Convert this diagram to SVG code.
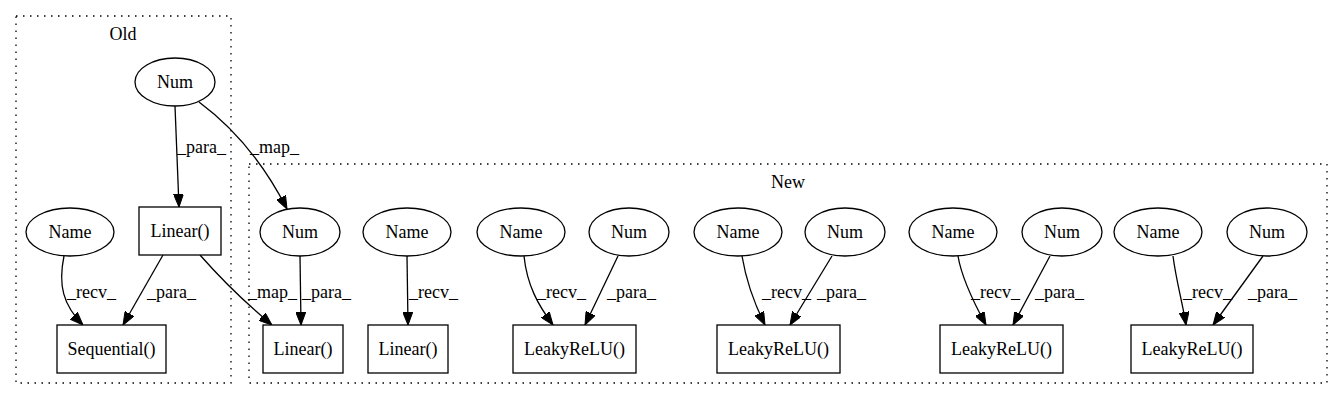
<svg xmlns="http://www.w3.org/2000/svg" width="1344" height="400" viewBox="0 0 1344 400">
<defs>
<marker id="ah" viewBox="0 0 13 10" markerWidth="13" markerHeight="10" refX="13" refY="5" orient="auto" markerUnits="userSpaceOnUse">
<path d="M0,0 L13,5 L0,10 z" fill="#000" stroke="#000" stroke-width="1"/>
</marker>
</defs>
<style>
text{font-family:"Liberation Serif","Times New Roman",serif;font-size:18px;fill:#000}
.n{text-anchor:middle}
.sh{fill:#fff;stroke:#000;stroke-width:1.3}
.cl{fill:none;stroke:#000;stroke-width:1.3;stroke-dasharray:1.5,5.5}
.e{fill:none;stroke:#000;stroke-width:1.3;marker-end:url(#ah)}
</style>
<rect width="1344" height="400" fill="#fff"/>
<g id="cluster_old">
<rect class="cl" x="16" y="16" width="215" height="367"/>
<text class="n" x="123" y="40">Old</text>
</g>
<g id="cluster_new">
<rect class="cl" x="249" y="164" width="1078" height="219"/>
<text class="n" x="788" y="188">New</text>
</g>
<g id="edges">
<path class="e" d="M175,106 L179,207"/>
<text x="177" y="153">_para_</text>
<path class="e" d="M199,102 C230,125 262,160 287,209"/>
<text x="250" y="153">_map_</text>
<path class="e" d="M64,256 C58,285 63,305 83,325"/>
<text x="67" y="298">_recv_</text>
<path class="e" d="M163,255 L123,325"/>
<text x="147" y="298">_para_</text>
<path class="e" d="M200,255 C222,280 248,305 272,325"/>
<text x="248" y="298">_map_</text>
<path class="e" d="M300,256 L301,325"/>
<text x="302" y="298">_para_</text>
<path class="e" d="M407,256 L408,325"/>
<text x="409" y="298">_recv_</text>
<path class="e" d="M524,256 C527,285 538,305 553,325"/>
<text x="537" y="298">_recv_</text>
<path class="e" d="M618,256 L585,325"/>
<text x="607" y="298">_para_</text>
<path class="e" d="M742,256 C746,280 755,305 765,325"/>
<text x="762" y="298">_recv_</text>
<path class="e" d="M832,256 L790,325"/>
<text x="817" y="298">_para_</text>
<path class="e" d="M958,256 C962,280 975,305 986,325"/>
<text x="971" y="298">_recv_</text>
<path class="e" d="M1050,256 L1013,325"/>
<text x="1035" y="298">_para_</text>
<path class="e" d="M1173,256 C1176,280 1183,305 1186,325"/>
<text x="1183" y="298">_recv_</text>
<path class="e" d="M1263,256 L1213,325"/>
<text x="1248" y="298">_para_</text>
</g>
<g id="old_num"><ellipse class="sh" cx="175" cy="82" rx="40" ry="24"/><text class="n" x="175" y="88">Num</text></g>
<g id="old_linear"><rect class="sh" x="139" y="207" width="82" height="48"/><text class="n" x="180" y="237">Linear()</text></g>
<g id="old_name"><ellipse class="sh" cx="70" cy="232" rx="44" ry="24"/><text class="n" x="70" y="238">Name</text></g>
<g id="old_sequential"><rect class="sh" x="57" y="325" width="109" height="48"/><text class="n" x="111.5" y="355">Sequential()</text></g>
<g id="new_num1"><ellipse class="sh" cx="300" cy="232" rx="40" ry="24"/><text class="n" x="300" y="238">Num</text></g>
<g id="new_linear1"><rect class="sh" x="263" y="325" width="80" height="48"/><text class="n" x="303" y="355">Linear()</text></g>
<g id="new_name2"><ellipse class="sh" cx="407" cy="232" rx="44" ry="24"/><text class="n" x="407" y="238">Name</text></g>
<g id="new_linear2"><rect class="sh" x="368" y="325" width="80" height="48"/><text class="n" x="408" y="355">Linear()</text></g>
<g id="new_name3"><ellipse class="sh" cx="521" cy="232" rx="44" ry="24"/><text class="n" x="521" y="238">Name</text></g>
<g id="new_num3"><ellipse class="sh" cx="629" cy="232" rx="40" ry="24"/><text class="n" x="629" y="238">Num</text></g>
<g id="new_leaky1"><rect class="sh" x="513" y="325" width="123" height="48"/><text class="n" x="574.5" y="355">LeakyReLU()</text></g>
<g id="new_name4"><ellipse class="sh" cx="738" cy="232" rx="44" ry="24"/><text class="n" x="738" y="238">Name</text></g>
<g id="new_num4"><ellipse class="sh" cx="845" cy="232" rx="40" ry="24"/><text class="n" x="845" y="238">Num</text></g>
<g id="new_leaky2"><rect class="sh" x="717" y="325" width="123" height="48"/><text class="n" x="778.5" y="355">LeakyReLU()</text></g>
<g id="new_name5"><ellipse class="sh" cx="953" cy="232" rx="44" ry="24"/><text class="n" x="953" y="238">Name</text></g>
<g id="new_num5"><ellipse class="sh" cx="1062" cy="232" rx="40" ry="24"/><text class="n" x="1062" y="238">Num</text></g>
<g id="new_leaky3"><rect class="sh" x="940" y="325" width="123" height="48"/><text class="n" x="1001.5" y="355">LeakyReLU()</text></g>
<g id="new_name6"><ellipse class="sh" cx="1158" cy="232" rx="44" ry="24"/><text class="n" x="1158" y="238">Name</text></g>
<g id="new_num6"><ellipse class="sh" cx="1267" cy="232" rx="40" ry="24"/><text class="n" x="1267" y="238">Num</text></g>
<g id="new_leaky4"><rect class="sh" x="1131" y="325" width="122" height="48"/><text class="n" x="1192" y="355">LeakyReLU()</text></g>
</svg>
